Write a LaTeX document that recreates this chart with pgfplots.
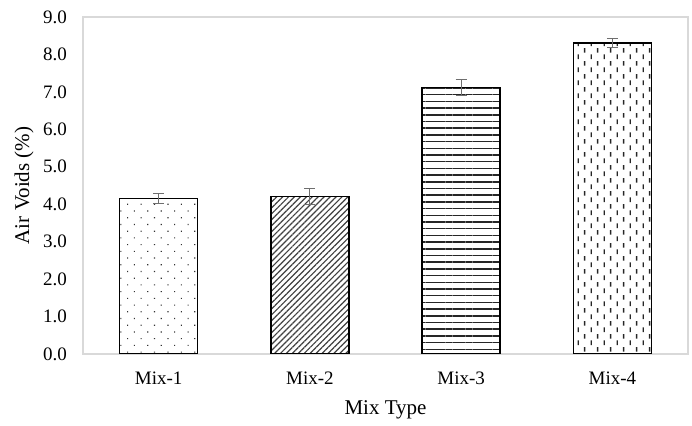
\documentclass[border=0pt]{standalone}
\usepackage{pgfplots}
\pgfplotsset{compat=1.18}
\usepackage{fontspec}
\setmainfont{Liberation Serif}
\usetikzlibrary{patterns,patterns.meta}
\definecolor{axgray}{RGB}{217,217,217}
\definecolor{errgray}{RGB}{110,110,110}
\pgfdeclarepatternformonly{vdashes}{\pgfqpoint{0pt}{0pt}}{\pgfqpoint{13.4pt}{13.4pt}}{\pgfqpoint{13.4pt}{13.4pt}}{%
  \pgfsetlinewidth{1.4pt}%
  \pgfpathmoveto{\pgfqpoint{3.35pt}{1pt}}\pgfpathlineto{\pgfqpoint{3.35pt}{5.8pt}}%
  \pgfpathmoveto{\pgfqpoint{10.05pt}{7.7pt}}\pgfpathlineto{\pgfqpoint{10.05pt}{12.5pt}}%
  \pgfusepath{stroke}}
\begin{document}
\begin{tikzpicture}
\begin{axis}[
  scale only axis,
  width=605pt, height=337pt,
  xmin=-0.5, xmax=3.5,
  ymin=0, ymax=9,
  ytick={0,1,...,9},
  yticklabel style={/pgf/number format/fixed, /pgf/number format/fixed zerofill, /pgf/number format/precision=1, anchor=east, inner sep=0pt, xshift=-16pt},
  /pgf/number format/assume math mode=true,
  xtick={0,1,2,3},
  xticklabels={Mix-1,Mix-2,Mix-3,Mix-4},
  xticklabel style={anchor=base, inner sep=0pt, yshift=-31pt},
  major tick length=0pt,
  axis line style={axgray, line width=1.2pt},
  tick label style={font=\fontsize{19}{22}\selectfont, black},
  xlabel={Mix Type},
  ylabel={Air Voids (\%)},
  every axis x label/.style={at={(axis description cs:0.5,-0.166)}, anchor=center, font=\fontsize{21}{24}\selectfont},
  every axis y label/.style={at={(axis description cs:-0.0975,0.5)}, rotate=90, anchor=center, font=\fontsize{21}{24}\selectfont},
  every axis plot/.append style={ybar, bar width=78pt, bar shift=0pt, draw=black, line width=1.5pt,
    error bars/y dir=both, error bars/y explicit,
    error bars/error bar style={errgray, line width=1.2pt},
    error bars/error mark options={rotate=90, mark size=5.5pt, errgray, line width=1.2pt}},
]
\addplot[pattern={Dots[distance=9.5pt, radius=0.8pt, angle=45]}, pattern color=black!80]
  coordinates {(0,4.15) +- (0,0.13)};
\addplot[pattern={Lines[angle=45, distance=4.2pt, line width=1.2pt]}, pattern color=black!75]
  coordinates {(1,4.21) +- (0,0.22)};
\addplot[pattern={Lines[angle=0, distance=6.7pt, line width=1.5pt, yshift=3pt]}, pattern color=black!85]
  coordinates {(2,7.12) +- (0,0.21)};
\addplot[pattern=vdashes, pattern color=black!85]
  coordinates {(3,8.30) +- (0,0.12)};
\end{axis}
\path ([xshift=-83pt,yshift=-72pt]current axis.south west) rectangle ([xshift=4pt,yshift=17pt]current axis.north east);
\end{tikzpicture}
\end{document}
